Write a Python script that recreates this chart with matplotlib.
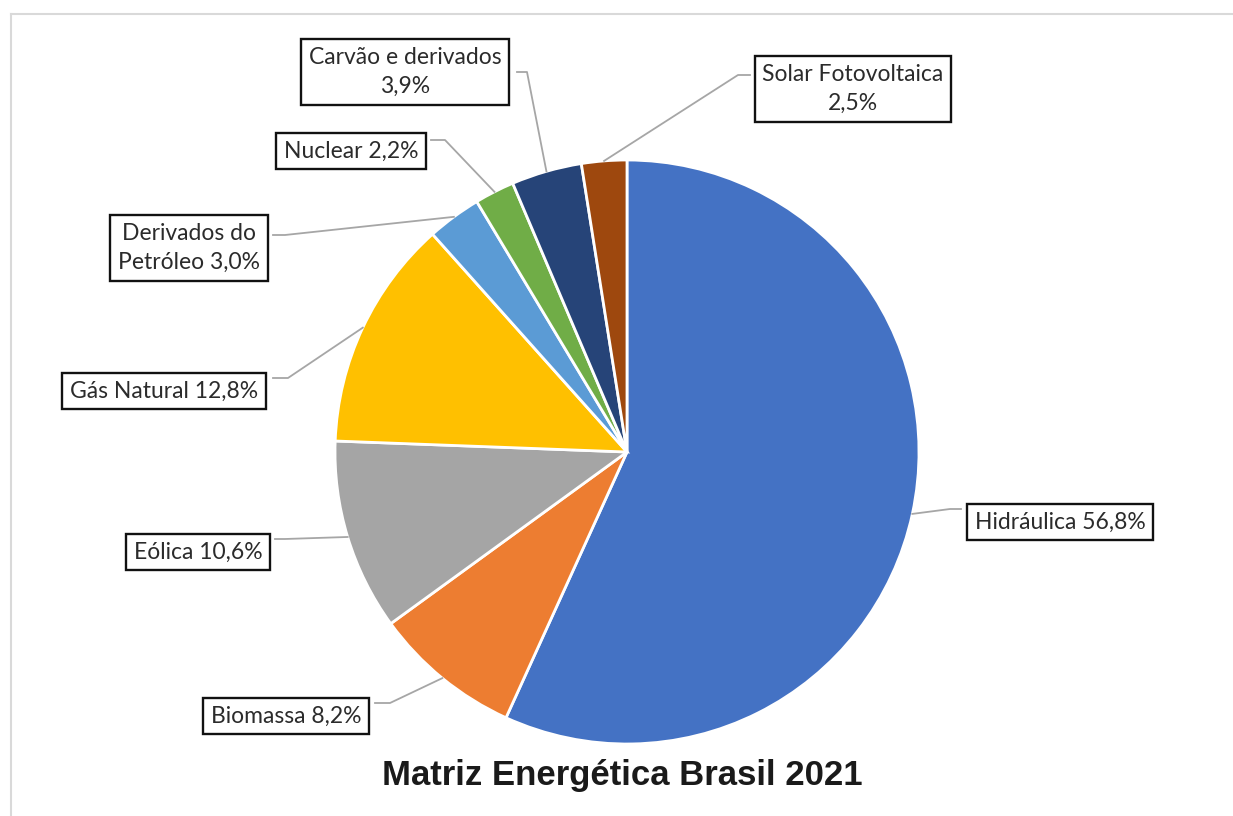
import numpy as np
import matplotlib.pyplot as plt

W, H = 1233, 816

# data
labels = ['Hidráulica', 'Biomassa', 'Eólica', 'Gás Natural', 'Derivados do\nPetróleo',
          'Nuclear', 'Carvão e derivados\n', 'Solar Fotovoltaica\n']
values = [56.8, 8.2, 10.6, 12.8, 3.0, 2.2, 3.9, 2.5]
colors = ['#4472C4', '#ED7D31', '#A5A5A5', '#FFC000', '#5B9BD5', '#70AD47', '#264478', '#9E480E']

# label box centres and leader elbow / box-attach points (pixels, y from top)
box_xy = [(1060, 522), (286, 716), (198, 552), (164, 391), (189, 248), (351, 151), (405, 72), (853, 89)]
elbow = [(950, 509), (390, 703), (285, 539), (288, 378), (285, 235), (445, 140), (527, 72), (738, 75)]
attach = [(961, 509), (375, 703), (275, 539), (273, 378), (273, 235), (431, 140), (517, 72), (750, 75)]

fy = lambda y: H - y

fig = plt.figure(figsize=(W / 100, H / 100), dpi=100)
ax = fig.add_axes([0, 0, 1, 1])

cx, cy, r = 627, fy(452), 292
wedges, _ = ax.pie(values, colors=colors, startangle=90, counterclock=False,
                   center=(cx, cy), radius=r, frame=True,
                   wedgeprops=dict(edgecolor='white', linewidth=2))
ax.set_xlim(0, W)
ax.set_ylim(0, H)
ax.axis('off')

for i, w in enumerate(wedges):
    mid = np.deg2rad((w.theta1 + w.theta2) / 2)
    px, py = cx + r * np.cos(mid), cy + r * np.sin(mid)
    ex, ey = elbow[i]
    ax_, ay_ = attach[i]
    ax.plot([px, ex, ax_], [py, fy(ey), fy(ay_)], color='#A6A6A6', lw=1.3, zorder=1)
    lab = labels[i]
    val = ('%.1f%%' % values[i]).replace('.', ',')
    if lab.endswith('\n'):
        txt = lab + val
    else:
        txt = lab + ' ' + val
    bx, by = box_xy[i]
    ax.text(bx, fy(by), txt, ha='center', va='center', multialignment='center',
            fontsize=16.5, family='Lato', color='#2b2b2b', linespacing=1.45, zorder=5,
            bbox=dict(boxstyle='square,pad=0.34', fc='white', ec='#111111', lw=1.7))

ax.text(622, fy(775), 'Matriz Energética Brasil 2021', ha='center', va='center',
        fontsize=25, fontweight='bold', family='Liberation Sans', color='#1a1a1a')

# light outer frame
ax.plot([11, W], [fy(14), fy(14)], color='#D9D9D9', lw=1.5)
ax.plot([11, 11], [fy(14), 0], color='#D9D9D9', lw=1.5)

fig.savefig('out.png', dpi=100, facecolor='white')
